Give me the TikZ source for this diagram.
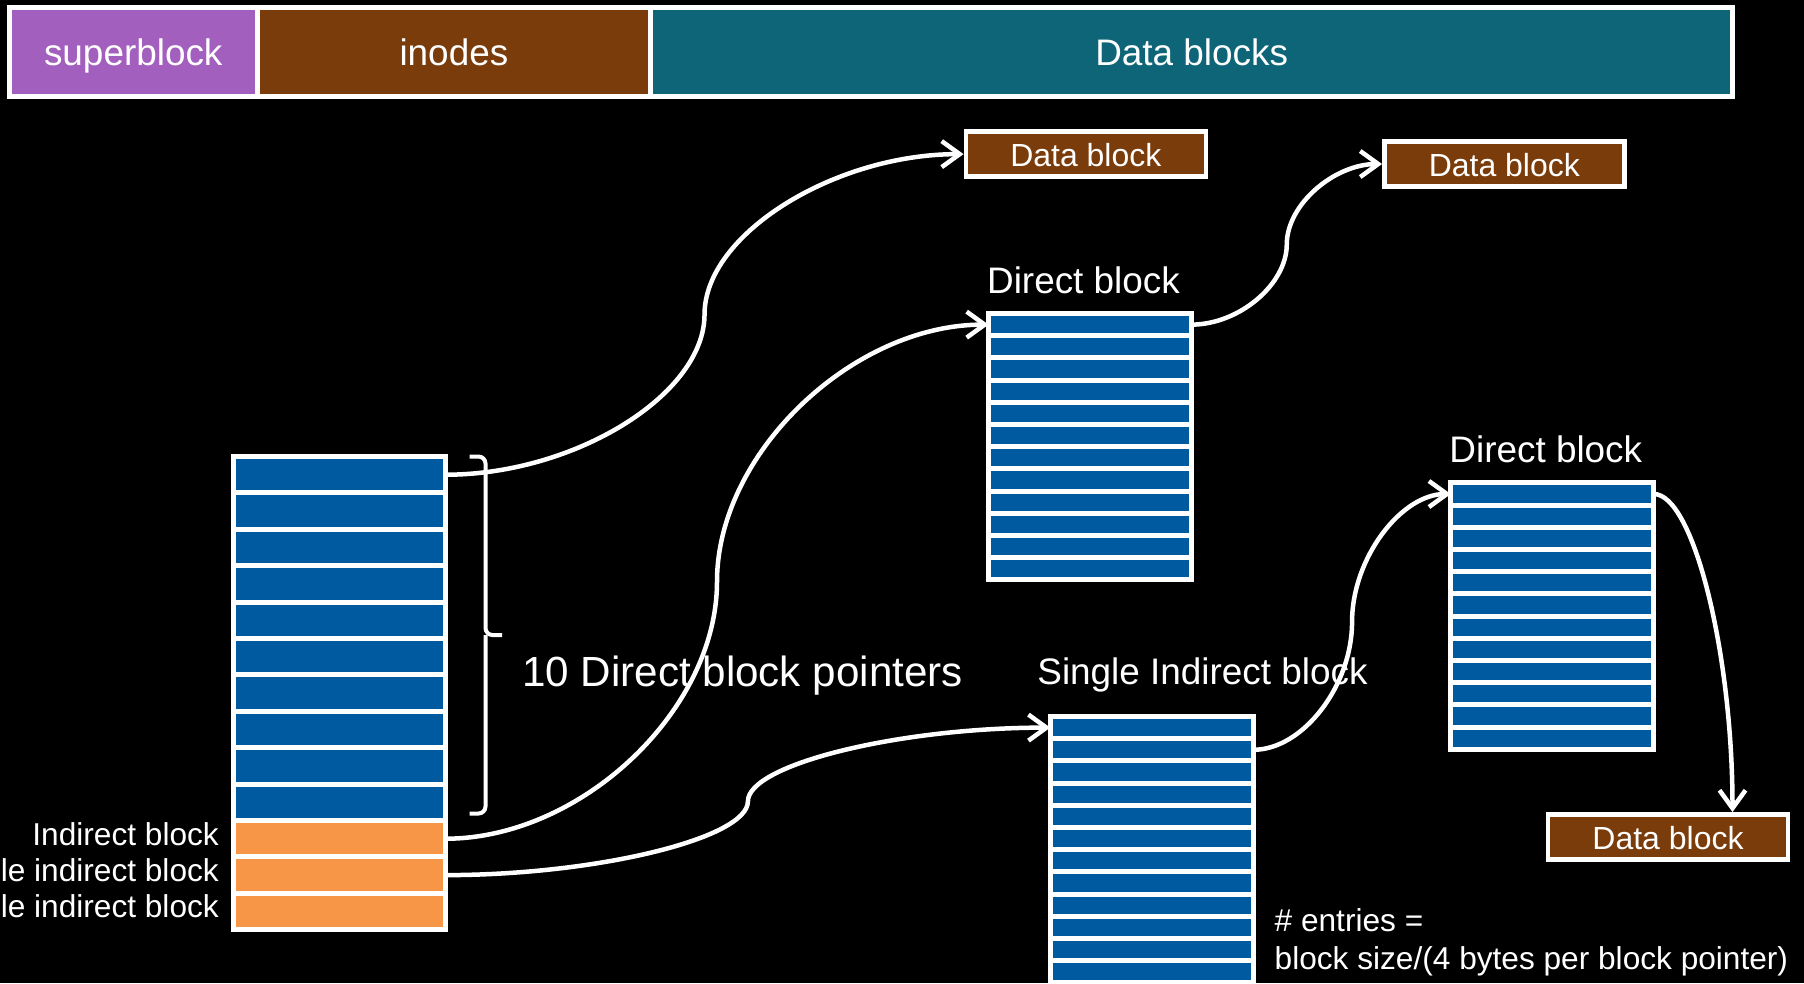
\documentclass[tikz,border=0pt]{standalone}
\usepackage{fontspec}
\setmainfont{Liberation Sans}
\usetikzlibrary{
    positioning,           % Relative positioning
    arrows.meta,           % Modern arrow tips
    calc                   % Coordinate calculations
}

\definecolor{superpurple}{RGB}{163,95,190}
\definecolor{inodebrown}{RGB}{122,60,11}
\definecolor{datateal}{RGB}{13,101,119}
\definecolor{ptrblue}{RGB}{0,90,160}
\definecolor{ptrorange}{RGB}{247,150,70}

\tikzset{
    barcell/.style={draw=white, line width=0.05cm, fill=#1, minimum height=0.89cm,
        inner sep=0pt, outer sep=0pt, text=white,
        font=\fontsize{10.5}{12}\selectfont, text height=7.4pt, text depth=0pt},
    cell/.style={draw=white, line width=0.05cm, fill=#1, inner sep=0pt, outer sep=0pt},
    inodecell/.style={cell=#1, minimum width=2.12cm, minimum height=3.64mm},
    ptrcell/.style={cell=ptrblue, minimum width=2.03cm, minimum height=2.22mm},
    datablk/.style={draw=white, line width=0.045cm, fill=inodebrown,
        minimum width=2.40cm, minimum height=0.45cm, inner sep=0pt, text=white,
        font=\fontsize{9.1}{11}\selectfont, text height=7.1pt, text depth=0pt},
    lbl/.style={text=white, inner sep=0pt, font=\fontsize{10.5}{12}\selectfont},
    sidelbl/.style={text=white, inner sep=0pt, font=\fontsize{9}{11}\selectfont},
    ptr/.style={draw=white, line width=0.045cm, -{Straight Barb[length=1.8mm,width=2.6mm]}},
    bracket/.style={draw=white, line width=0.04cm, rounded corners=2pt}
}

\begin{document}
\begin{tikzpicture}
    \fill[black] (0,0) rectangle (18.04,-9.83);
    \useasboundingbox (0,0) rectangle (18.04,-9.83);
    \clip (0,0) rectangle (18.04,-9.83);

    % disk layout bar
    \node[barcell=superpurple, minimum width=2.475cm, anchor=north west] (super) at (0.095,-0.075) {superblock};
    \node[barcell=inodebrown, minimum width=3.938cm, right=0pt of super] (inodes) {inodes};
    \node[barcell=datateal, minimum width=10.817cm, right=0pt of inodes] (blocks) {Data blocks};

    % inode: 10 direct + 3 indirect entries
    \foreach \i in {1,...,10}
        \node[inodecell=ptrblue] (inode-\i) at (3.395,{-4.747-0.364*(\i-1)}) {};
    \foreach \i in {11,12,13}
        \node[inodecell=ptrorange] (inode-\i) at (3.395,{-4.747-0.364*(\i-1)}) {};

    \node[sidelbl, left=0.14cm of inode-11, yshift=0.05cm] (ind-lbl) {Indirect block};
    \node[sidelbl, left=0.14cm of inode-12, yshift=0.05cm] (dbl-lbl) {le indirect block};
    \node[sidelbl, left=0.14cm of inode-13, yshift=0.05cm] (tpl-lbl) {le indirect block};

    % brace over the direct entries
    \draw[bracket] (4.695,-4.565) -- (4.855,-4.565) -- (4.855,-6.35) -- (5.02,-6.35);
    \draw[bracket] (4.855,-6.35) -- (4.855,-8.135) -- (4.695,-8.135);
    \node[text=white, inner sep=0pt, font=\fontsize{12}{14}\selectfont, anchor=base] (ndirect) at (7.425,-6.86) {10 Direct block pointers};

    % pointer blocks, 12 entries each
    \foreach \t/\x/\y in {dt1/10.90/-3.135, dt2/15.523/-4.829, sib/11.518/-7.165}
        \foreach \i in {1,...,12}
            \node[ptrcell, anchor=north] (\t-\i) at (\x,{\y-0.222*(\i-1)}) {};

    \node[lbl, above=0.185cm of dt1-1, xshift=-0.065cm] (dt1-lbl) {Direct block};
    \node[lbl, above=0.194cm of dt2-1, xshift=-0.065cm] (dt2-lbl) {Direct block};
    \node[lbl, anchor=base] (sib-lbl) at (12.025,-6.847) {Single Indirect block};

    \node[sidelbl, anchor=base west] (entries) at (12.74,-9.31) {\# entries =};
    \node[sidelbl, anchor=base west] (blocksize) at (12.74,-9.697) {block size/(4 bytes per block pointer)};

    % data blocks
    \node[datablk] (db1) at (10.858,-1.541) {Data block};
    \node[datablk] (db2) at (15.043,-1.64) {Data block};
    \node[datablk] (db3) at (16.68,-8.368) {Data block};

    % pointers
    \draw[ptr] (inode-1.east) .. controls +(1.295,0) and +(0,-0.80) .. ($(inode-1.east)!0.5!(db1.west)$)
        .. controls +(0,0.80) and +(-1.295,0) .. (db1.west);
    \draw[ptr] (inode-11.east) .. controls +(1.357,0) and +(0,-1.285) .. ($(inode-11.east)!0.5!(dt1-1.west)$)
        .. controls +(0,1.285) and +(-1.357,0) .. (dt1-1.west);
    \draw[ptr] (inode-12.east) .. controls +(1.511,0) and +(0,-0.369) .. ($(inode-12.east)!0.5!(sib-1.west)$)
        .. controls +(0,0.369) and +(-1.511,0) .. (sib-1.west);
    \draw[ptr] (dt1-1.east) .. controls +(0.476,0) and +(0,-0.40) .. ($(dt1-1.east)!0.5!(db2.west)$)
        .. controls +(0,0.40) and +(-0.476,0) .. (db2.west);
    \draw[ptr] (sib-2.east) .. controls +(0.494,0) and +(0,-0.64) .. ($(sib-2.east)!0.5!(dt2-1.west)$)
        .. controls +(0,0.64) and +(-0.494,0) .. (dt2-1.west);
    \draw[ptr] (dt2-1.east) .. controls +(0.395,0) and +(0,1.59) .. ([xshift=0.645cm]db3.north);
\end{tikzpicture}
\end{document}
